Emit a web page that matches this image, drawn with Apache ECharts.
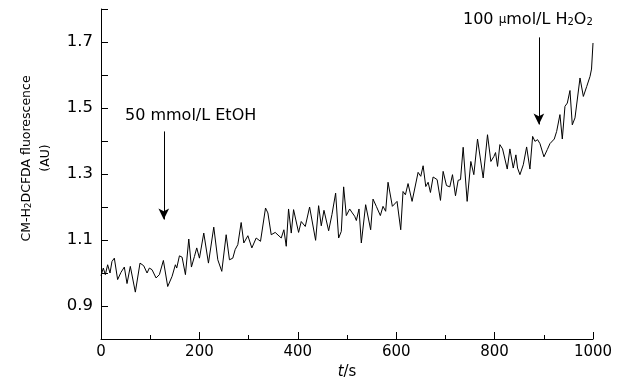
<!DOCTYPE html>
<html><head><meta charset="utf-8">
<script src="https://cdn.jsdelivr.net/npm/echarts@6/dist/echarts.min.js"></script>
<style>html,body{margin:0;padding:0;background:#fff}#c{width:617px;height:392px}</style>
</head><body><div id="c"></div>
<script>
// time (s)
const times = [0,4.7,8.8,13.5,18.3,22.3,27.1,33.8,40.6,47.4,52.9,59.6,69.8,79.3,86.8,93.6,98.3,103.7,111.9,118.7,126.8,135.6,144.5,151.2,153.9,159.4,164.8,171.6,178.4,183.8,189.9,194.6,200.1,208.9,218.4,229.2,237.4,245.5,254.4,261.1,267.9,272.7,278.1,284.9,290.3,298.5,306.6,315.4,324.2,334.4,339.2,346.0,354.1,366.3,371.7,376.5,381.2,386.7,391.4,401.6,407.0,415.2,424.0,436.2,442.3,447.7,453.2,462.7,469.4,476.9,483.0,488.4,493.2,498.6,505.4,510.8,515.6,519.0,524.4,529.1,537.9,548.1,552.9,559.6,567.8,573.2,578.6,583.4,592.2,601.7,609.2,613.9,618.7,624.1,632.3,644.5,649.9,654.7,660.1,664.9,669.6,675.0,683.2,690.0,695.4,702.2,709.0,714.4,720.5,725.9,730.7,736.1,744.2,751.7,757.8,765.3,776.8,785.6,792.4,798.5,801.9,806.0,810.7,816.2,819.6,825.7,831.1,837.9,843.3,846.7,851.5,858.3,865.1,871.8,877.3,882.0,887.4,892.2,900.3,907.1,912.5,921.3,926.1,932.8,937.6,943.0,947.8,953.2,957.9,963.4,966.8,973.6,980.4,987.2,994.0,997.0,1000];
// fluorescence (AU)
const values = [0.992,1.015,0.995,1.025,1.000,1.035,1.045,0.980,1.002,1.018,0.968,1.020,0.942,1.030,1.022,1.000,1.015,1.010,0.985,0.995,1.038,0.959,0.990,1.025,1.015,1.052,1.048,0.995,1.103,1.018,1.050,1.076,1.045,1.121,1.030,1.139,1.040,1.005,1.116,1.040,1.045,1.071,1.086,1.153,1.091,1.113,1.076,1.106,1.096,1.197,1.182,1.116,1.123,1.106,1.131,1.081,1.194,1.121,1.192,1.123,1.156,1.141,1.200,1.099,1.204,1.143,1.190,1.128,1.177,1.242,1.106,1.126,1.261,1.174,1.194,1.182,1.172,1.159,1.194,1.091,1.207,1.131,1.224,1.202,1.174,1.202,1.187,1.275,1.202,1.217,1.131,1.247,1.237,1.271,1.217,1.305,1.293,1.325,1.262,1.275,1.244,1.291,1.283,1.220,1.308,1.265,1.261,1.298,1.234,1.281,1.283,1.381,1.217,1.338,1.298,1.406,1.288,1.419,1.338,1.353,1.365,1.323,1.389,1.376,1.382,1.315,1.376,1.318,1.358,1.318,1.298,1.328,1.382,1.315,1.414,1.399,1.404,1.392,1.352,1.374,1.392,1.406,1.429,1.480,1.406,1.505,1.515,1.553,1.449,1.470,1.465,1.591,1.535,1.565,1.596,1.618,1.697];
// y tick labels shown
const yTickLabels = ['0.9','1.1','1.3','1.5','1.7'];
// annotation arrows (data coordinates)
const arrowTimes = [127.6, 890];
const arrowTops = [1.429, 1.714];
const arrowTips = [1.162, 1.450];
const annotations = ['50 mmol/L EtOH', '100 {m|\u03bc}mol/L H{s|2}O{s|2}'];

const chart = echarts.init(document.getElementById('c'), null, {renderer: 'canvas'});
const FONT = 'DejaVu Sans';
const black = '#000';
const option = {
  animation: false,
  grid: {left: 101, right: 24, top: 9, bottom: 53, containLabel: false, outerBoundsMode: 'none'},
  xAxis: {
    type: 'value', min: 0, max: 1000, interval: 200,
    name: '{i|t}/s', nameLocation: 'middle', nameGap: 25,
    nameTextStyle: {color: black, fontFamily: FONT, fontSize: 15, rich: {i: {fontStyle: 'italic', fontFamily: FONT, fontSize: 15, color: black}}},
    axisLine: {lineStyle: {color: black, width: 1}},
    axisTick: {inside: true, length: 7, lineStyle: {color: black, width: 1}},
    minorTick: {show: true, splitNumber: 2, length: 4, lineStyle: {color: black, width: 1}},
    splitLine: {show: false}, minorSplitLine: {show: false},
    axisLabel: {color: black, fontFamily: FONT, fontSize: 15, margin: 6, formatter: v => String(v)}
  },
  yAxis: {
    type: 'value', min: 0.8, max: 1.8, interval: 0.1,
    axisLine: {show: true, lineStyle: {color: black, width: 1}},
    axisTick: {show: true, inside: true, length: 7, lineStyle: {color: black, width: 1}},
    splitLine: {show: false},
    axisLabel: {color: black, fontFamily: FONT, fontSize: 16.5, margin: 8,
      formatter: v => { const s = v.toFixed(1); return yTickLabels.includes(s) ? s : ''; }}
  },
  series: [{
    type: 'line', data: times.map((t, i) => [t, values[i]]),
    symbol: 'none', showSymbol: false, silent: true,
    lineStyle: {color: black, width: 1},
    markLine: {
      silent: true, animation: false,
      symbol: ['none', 'arrow'], symbolSize: [8, 11],
      label: {show: false},
      lineStyle: {color: black, width: 1, type: 'solid'},
      itemStyle: {color: black},
      data: arrowTimes.map((t, i) => [{coord: [t, arrowTops[i]]}, {coord: [t, arrowTips[i]]}])
    }
  }],
  graphic: [
    {type: 'text', x: 26.5, y: 158.5, rotation: Math.PI / 2,
     style: {text: 'CM-H{s|2}DCFDA fluorescence', fill: black, font: '12.5px "DejaVu Sans"', align: 'center', verticalAlign: 'middle',
       rich: {s: {fontSize: 9, fontFamily: FONT, fill: black, verticalAlign: 'bottom', padding: [4, 0, 0, 0]}}}},
    {type: 'text', x: 46, y: 158, rotation: Math.PI / 2,
     style: {text: '(AU)', fill: black, font: '12.5px "DejaVu Sans"', align: 'center', verticalAlign: 'middle'}},
    {type: 'text', x: 125, y: 116,
     style: {text: annotations[0], fill: black, font: '16px "DejaVu Sans"', align: 'left', verticalAlign: 'middle'}},
    {type: 'text', x: 463, y: 20,
     style: {text: annotations[1], fill: black, font: '16px "DejaVu Sans"', align: 'left', verticalAlign: 'middle',
       rich: {m: {fontSize: 12, fontFamily: FONT, fill: black}, s: {fontSize: 10, fontFamily: FONT, fill: black, padding: [5, 0, 0, 0]}}}}
  ]
};
chart.setOption(option);
</script></body></html>
